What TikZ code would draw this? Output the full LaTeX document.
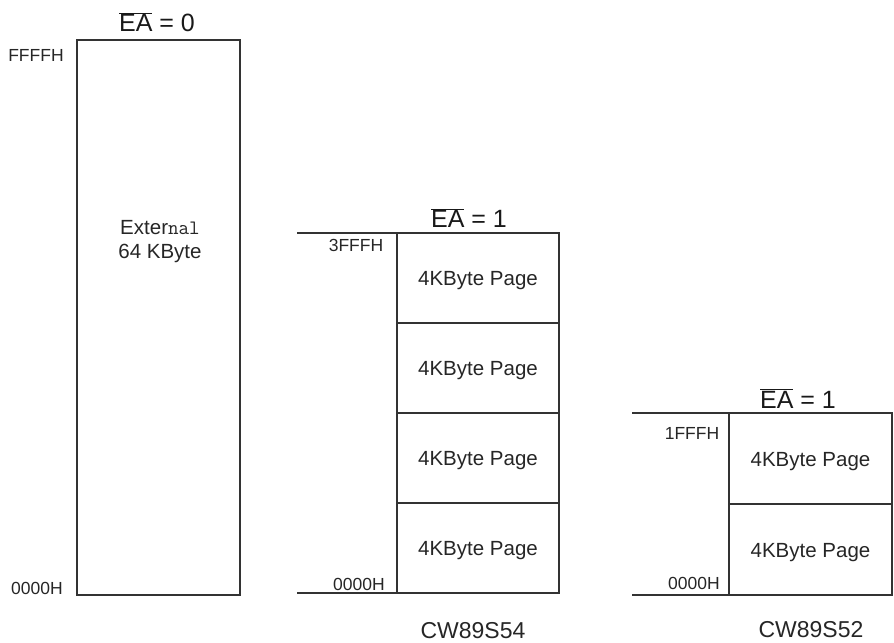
\documentclass[tikz,border=0pt]{standalone}
\usepackage{fontspec}
\setmainfont{Liberation Sans}
\begin{document}
\begin{tikzpicture}[x=1bp,y=-1bp,
  ln/.style={draw=black!80, line width=1.4bp},
  cell/.style={ln, minimum width=#1, inner sep=0pt, outer sep=0pt, text height=15bp, text depth=-2bp, font=\fontsize{20.5bp}{24bp}\selectfont, text=black!85},
  addr/.style={font=\fontsize{17.5bp}{20bp}\selectfont, text=black!85, inner sep=0pt},
  ealab/.style={font=\fontsize{25bp}{28bp}\selectfont, text=black!90, inner sep=0pt, anchor=base},
  chip/.style={font=\fontsize{23bp}{26bp}\selectfont, text=black!85, inner sep=0pt, anchor=base}]
\useasboundingbox (0,0) rectangle (894,643);
% ---------- EA = 0 ----------
\node[ln, minimum width=163bp, minimum height=555bp, inner sep=0pt, outer sep=0pt, anchor=north west] (ext) at (77,40) {};
\node[align=center, font=\fontsize{20.5bp}{24bp}\selectfont, text=black!85] (extlab) at (160,242) {Exter{\ttfamily nal}\\64 KByte};
\node[ealab] (ea0) at (157,32) {$\overline{\hbox{EA}}$ = 0};
\node[addr] (a1) at (36,55) {FFFFH};
\node[addr] (a2) at (37,588) {0000H};
% ---------- CW89S54 ----------
\node[cell=162bp, minimum height=90bp, anchor=north west] (p1) at (397,233) {4KByte Page};
\node[cell=162bp, minimum height=90bp, anchor=north] (p2) at (p1.south) {4KByte Page};
\node[cell=162bp, minimum height=90bp, anchor=north] (p3) at (p2.south) {4KByte Page};
\node[cell=162bp, minimum height=90bp, anchor=north] (p4) at (p3.south) {4KByte Page};
\coordinate (t2l) at ([xshift=-100bp]p1.north west);
\coordinate (b2l) at ([xshift=-100bp]p4.south west);
\draw[ln] (t2l) -- (p1.north west);
\draw[ln] (b2l) -- (p4.south west);
\node[ealab] (ea1) at (469,228) {$\overline{\hbox{EA}}$ = 1};
\node[addr] (a3) at (356,245) {3FFFH};
\node[addr] (a4) at (359,584) {0000H};
\node[chip] (c1) at (473,638) {CW89S54};
% ---------- CW89S52 ----------
\node[cell=163bp, minimum height=91bp, anchor=north west] (q1) at (729,413) {4KByte Page};
\node[cell=163bp, minimum height=91bp, anchor=north] (q2) at (q1.south) {4KByte Page};
\coordinate (t3l) at ([xshift=-97bp]q1.north west);
\coordinate (b3l) at ([xshift=-97bp]q2.south west);
\draw[ln] (t3l) -- (q1.north west);
\draw[ln] (b3l) -- (q2.south west);
\node[ealab] (ea2) at (798,408) {$\overline{\hbox{EA}}$ = 1};
\node[addr] (a5) at (692,433) {1FFFH};
\node[addr] (a6) at (694,583) {0000H};
\node[chip] (c2) at (811,637) {CW89S52};
\end{tikzpicture}
\end{document}
